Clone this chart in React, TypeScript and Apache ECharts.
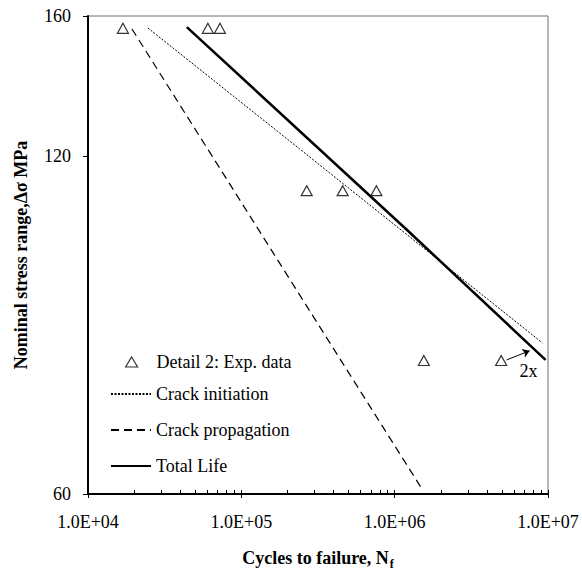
import React, { useEffect, useRef } from "react";
import * as echarts from "echarts";

// Experimental data (Detail 2)
const expCycles = [1.69e4, 6.05e4, 7.25e4, 2.67e5, 4.58e5, 7.6e5, 1.55e6, 4.95e6];
const expStress = [156, 156, 156, 111.8, 111.8, 111.8, 78.9, 78.9];

// Crack initiation curve
const initCycles = [2.46e4, 2.4e5, 9.2e6];
const initStress = [156.1, 121.8, 81.8];

// Crack propagation curve
const propCycles = [1.935e4, 1.476e6];
const propStress = [155.8, 60.9];

// Total life curve
const totalCycles = [4.41e4, 1.19e6, 9.64e6];
const totalStress = [156.4, 103.3, 79.0];

// Axis ticks
const yTickLabels = [60, 120, 160];
const xMajorTicks = [1e4, 1e5, 1e6, 1e7];
const xMinorMultipliers = [2, 3, 4, 5, 6, 7, 8, 9];

// "2x" annotation
const arrowFrom = [5.37e6, 79.0];
const arrowTo = [7.59e6, 80.5];
const noteAt = [7.46e6, 77.2];
const noteText = "2x";

const FONT = "Liberation Serif, Times New Roman, serif";
const L = Math.log10;

function pairs(xs: number[], ys: number[]) {
  return xs.map((x, i) => [L(x), L(ys[i])]);
}

export default function App() {
  const ref = useRef<HTMLDivElement>(null);
  useEffect(() => {
    if (!ref.current) return;
    const chart = echarts.init(ref.current, null, { renderer: "svg" });
    const xMin = L(xMajorTicks[0]);
    const xMax = L(xMajorTicks[xMajorTicks.length - 1]);
    const yMin = L(yTickLabels[0]);
    const yMax = L(yTickLabels[yTickLabels.length - 1]);
    const minorTicks: number[] = [];
    for (let i = 0; i < xMajorTicks.length; i++) {
      minorTicks.push(L(xMajorTicks[i]));
      if (i < xMajorTicks.length - 1) {
        xMinorMultipliers.forEach((m) => minorTicks.push(L(xMajorTicks[i] * m)));
      }
    }
    const labelStyle = { color: "#000", fontSize: 18, fontFamily: FONT };
    const option: any = {
      animation: false,
      textStyle: { fontFamily: FONT },
      grid: {
        left: 88,
        right: 34,
        top: 16,
        bottom: 82,
        show: true,
        borderColor: "#6e6e6e",
        borderWidth: 1,
        backgroundColor: "transparent",
      },
      legend: [
        {
          orient: "vertical",
          left: 120,
          top: 347,
          itemWidth: 12,
          itemHeight: 10,
          data: [{ name: "Detail 2: Exp. data", icon: "triangle" }],
          itemStyle: { color: "#fff", borderColor: "#000", borderWidth: 1.2 },
          textStyle: { ...labelStyle, lineHeight: 20, padding: [0, 0, 0, 14] },
          selectedMode: false,
        },
        {
          orient: "vertical",
          left: 105,
          top: 379,
          itemWidth: 40,
          itemHeight: 10,
          itemGap: 16,
          data: ["Crack initiation", "Crack propagation", "Total Life"],
          itemStyle: { color: "transparent", borderColor: "transparent", borderWidth: 0, opacity: 0 },
          textStyle: { ...labelStyle, lineHeight: 20 },
          selectedMode: false,
        },
      ],
      xAxis: [
        {
          type: "value",
          min: xMin,
          max: xMax,
          interval: 1,
          position: "bottom",
          splitLine: { show: false },
          axisLine: { lineStyle: { color: "#000", width: 2 } },
          axisTick: { show: true, length: 4, lineStyle: { color: "#000", width: 1 } },
          axisLabel: {
            ...labelStyle,
            margin: 19,
            formatter: (v: number) => "1.0E+" + String(Math.round(v)).padStart(2, "0"),
          },
          name: "{a|Cycles to failure, N}{s|f}",
          nameLocation: "middle",
          nameGap: 53,
          nameTextStyle: {
            rich: {
              a: { fontFamily: FONT, fontWeight: "bold", fontSize: 18, color: "#000", lineHeight: 20, verticalAlign: "bottom" },
              s: { fontFamily: FONT, fontWeight: "bold", fontSize: 12, color: "#000", lineHeight: 14, verticalAlign: "bottom", padding: [0, 0, -3, 1] },
            },
          },
        },
        {
          type: "value",
          min: xMin,
          max: xMax,
          interval: 1,
          position: "bottom",
          splitLine: { show: false },
          axisLine: { show: false },
          axisLabel: { show: false },
          axisTick: {
            show: true,
            inside: true,
            length: 4,
            customValues: minorTicks,
            lineStyle: { color: "#000", width: 1 },
          },
        },
      ],
      yAxis: {
        type: "value",
        min: yMin,
        max: yMax,
        splitLine: { show: false },
        axisLine: { show: true, lineStyle: { color: "#000", width: 2 } },
        axisTick: {
          show: true,
          length: 5,
          customValues: yTickLabels.map(L),
          lineStyle: { color: "#000", width: 1 },
        },
        axisLabel: {
          ...labelStyle,
          margin: 17,
          customValues: yTickLabels.map(L),
          formatter: (v: number) => String(Math.round(Math.pow(10, v))),
        },
        name: "Nominal stress range,Δσ MPa",
        nameLocation: "middle",
        nameGap: 58,
        nameTextStyle: { fontFamily: FONT, fontWeight: "bold", fontSize: 18, color: "#000" },
      },
      series: [
        {
          name: "Crack initiation",
          type: "line",
          symbol: "none",
          silent: true,
          data: pairs(initCycles, initStress),
          lineStyle: { color: "#000", width: 1, type: [2, 1.5] },
          itemStyle: { color: "#000" },
        },
        {
          name: "Crack propagation",
          type: "line",
          symbol: "none",
          silent: true,
          data: pairs(propCycles, propStress),
          lineStyle: { color: "#000", width: 1.2, type: [8, 5] },
          itemStyle: { color: "#000" },
        },
        {
          name: "Total Life",
          type: "line",
          symbol: "none",
          silent: true,
          data: pairs(totalCycles, totalStress),
          lineStyle: { color: "#000", width: 2.5, type: "solid" },
          itemStyle: { color: "#000" },
        },
        {
          name: "Detail 2: Exp. data",
          type: "scatter",
          symbol: "triangle",
          symbolSize: [11, 10],
          silent: true,
          z: 5,
          data: pairs(expCycles, expStress),
          itemStyle: { color: "#fff", borderColor: "#000", borderWidth: 1.2 },
          markLine: {
            silent: true,
            symbol: ["none", "arrow"],
            symbolSize: 7,
            label: { show: false },
            lineStyle: { color: "#000", width: 1, type: "solid" },
            data: [[{ coord: [L(arrowFrom[0]), L(arrowFrom[1])] }, { coord: [L(arrowTo[0]), L(arrowTo[1])] }]],
          },
          markPoint: {
            silent: true,
            symbol: "rect",
            symbolSize: [24, 20],
            itemStyle: { color: "transparent", borderWidth: 0 },
            label: { show: true, position: "inside", formatter: noteText, ...labelStyle },
            data: [{ coord: [L(noteAt[0]), L(noteAt[1])] }],
          },
        },
      ],
    };
    chart.setOption(option);
    return () => chart.dispose();
  }, []);
  return (
    <div
      ref={ref}
      style={{ position: "fixed", left: 0, top: 0, width: 582, height: 576, background: "#fff" }}
    />
  );
}
